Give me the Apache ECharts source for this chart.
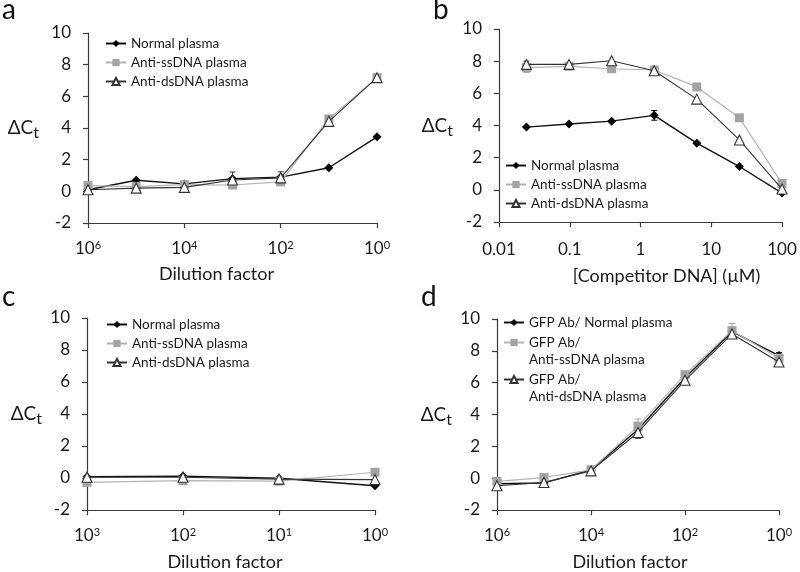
<!DOCTYPE html>
<html><head><meta charset="utf-8">
<script src="https://cdn.jsdelivr.net/npm/echarts@6/dist/echarts.min.js"></script>
<style>html,body{margin:0;padding:0;background:#fff}#c{width:800px;height:572px}</style>
</head><body><div id="c"></div>
<script>
// ---------- DATA ----------
const namesABC = ['Normal plasma', 'Anti-ssDNA plasma', 'Anti-dsDNA plasma'];
const namesD = ['GFP Ab/ Normal plasma', 'GFP Ab/\nAnti-ssDNA plasma', 'GFP Ab/\nAnti-dsDNA plasma'];
const panelLetters = ['a', 'b', 'c', 'd'];
const yTicks = [-2, 0, 2, 4, 6, 8, 10];
const bTickLabels = ['0.01', '0.1', '1', '10', '100'];

// Panel a: dilution factor exponent (10^n)
const aDil = [6, 5, 4, 3, 2, 1, 0];
const aNormal = [0.1, 0.7, 0.47, 0.8, 0.9, 1.49, 3.44];
const aSs = [0.36, 0.3, 0.42, 0.4, 0.6, 4.57, 7.18];
const aDs = [0.1, 0.2, 0.25, 0.72, 0.85, 4.42, 7.18];
const aNormalErr = [0, 0, 0.1, 0, 0, 0, 0];
const aSsErr = [0, 0, 0, 0, 0, 0, 0];
const aDsErr = [0, 0, 0.2, 0.5, 0.38, 0, 0];

// Panel b: competitor DNA concentration (µM)
const bConc = [0.0244140625, 0.09765625, 0.390625, 1.5625, 6.25, 25, 100];
const bNormal = [3.9, 4.09, 4.27, 4.63, 2.9, 1.45, -0.2];
const bSs = [7.6, 7.68, 7.53, 7.45, 6.4, 4.48, 0.4];
const bDs = [7.8, 7.8, 8.03, 7.4, 5.64, 3.1, 0.05];
const bNormalErr = [0, 0, 0, 0.3, 0, 0, 0];
const bSsErr = [0.3, 0.1, 0, 0, 0, 0, 0];
const bDsErr = [0.2, 0, 0, 0, 0, 0, 0];

// Panel c: dilution factor exponent (10^n)
const cDil = [3, 2, 1, 0];
const cNormal = [0.08, 0.12, -0.02, -0.48];
const cSs = [-0.27, -0.17, -0.2, 0.36];
const cDs = [0.05, 0.05, -0.07, -0.1];

// Panel d: dilution factor exponent (10^n)
const dDil = [6, 5, 4, 3, 2, 1, 0];
const dNormal = [-0.35, -0.3, 0.52, 3.06, 6.31, 9.2, 7.7];
const dSs = [-0.2, 0.04, 0.52, 3.27, 6.5, 9.27, 7.54];
const dDs = [-0.48, -0.27, 0.46, 2.87, 6.15, 9.06, 7.3];
const dNormalErr = [0, 0, 0, 0, 0, 0, 0.2];
const dSsErr = [0, 0, 0, 0.45, 0.15, 0.45, 0];
const dDsErr = [0, 0, 0, 0.37, 0, 0, 0];

// ---------- STYLE ----------
const FONT = 'Lato, "Open Sans", sans-serif';
const AX = '#3a3a3a';
const TXT = '#1a1a1a';
const sty = [
  { symbol: 'diamond', size: 9, color: '#000', line: '#111', lw: 1.4, fill: '#000' },
  { symbol: 'rect', size: 9, color: '#a3a3a3', line: '#b3b3b3', lw: 1.2, fill: '#a3a3a3' },
  { symbol: 'triangle', size: 10, color: '#333', line: '#333', lw: 1.1, fill: '#fff' }
];

const grids = [
  { left: 88, top: 33, width: 289, height: 190 },
  { left: 499, top: 29, width: 283, height: 193 },
  { left: 87, top: 318, width: 288, height: 192 },
  { left: 497, top: 319, width: 282, height: 191 }
];

function supLabel(v) { return '{b|10}{s|' + v + '}'; }
const supRich = {
  b: { fontSize: 17, fontFamily: FONT, color: TXT },
  s: { fontSize: 11, fontFamily: FONT, color: TXT, verticalAlign: 'top' }
};

function makeX(i, cfg) {
  const base = {
    gridIndex: i,
    axisLine: { onZero: false, lineStyle: { color: AX, width: 1.2 } },
    axisTick: { show: true, length: 5, lineStyle: { color: AX, width: 1.2 } },
    splitLine: { show: false },
    nameLocation: 'middle',
    nameTextStyle: { fontSize: 18, fontFamily: FONT, color: TXT }
  };
  return Object.assign(base, cfg);
}
function makeY(i, gap) {
  return {
    type: 'value', gridIndex: i, min: -2, max: 10, interval: 2,
    axisLine: { show: true, onZero: false, lineStyle: { color: AX, width: 1.2 } },
    axisTick: { show: true, length: 5, lineStyle: { color: AX, width: 1.2 } },
    splitLine: { show: false },
    axisLabel: { fontSize: 17, fontFamily: FONT, color: TXT, margin: 17 },
    name: '{d|ΔC}{t|t}',
    nameLocation: 'middle', nameRotate: 0, nameGap: gap,
    nameTextStyle: {
      rich: {
        d: { fontSize: 19, fontFamily: FONT, color: TXT },
        t: { fontSize: 16, fontFamily: FONT, color: TXT, padding: [10, 0, 0, 0] }
      }
    }
  };
}

const xAxes = [
  makeX(0, { type: 'value', inverse: true, min: 0, max: 6, interval: 2,
    axisLabel: { formatter: supLabel, rich: supRich, margin: 17 },
    name: 'Dilution factor', nameGap: 42,
    nameTextStyle: { fontSize: 18, fontFamily: FONT, color: TXT, padding: [0, 32, 0, 0] } }),
  makeX(1, { type: 'log', logBase: 10, min: 0.01, max: 100,
    axisLabel: { fontSize: 17, fontFamily: FONT, color: TXT, margin: 19,
      formatter: function (v) { const k = Math.round(Math.log10(v)) + 2; return bTickLabels[k]; } },
    name: '[Competitor DNA] (µM)', nameGap: 45,
    nameTextStyle: { fontSize: 18, fontFamily: FONT, color: TXT, padding: [0, 0, 0, 52] } }),
  makeX(2, { type: 'value', inverse: true, min: 0, max: 3, interval: 1,
    axisLabel: { formatter: supLabel, rich: supRich, margin: 17 },
    name: 'Dilution factor', nameGap: 43,
    nameTextStyle: { fontSize: 18, fontFamily: FONT, color: TXT, padding: [0, 12, 0, 0] } }),
  makeX(3, { type: 'value', inverse: true, min: 0, max: 6, interval: 2,
    axisLabel: { formatter: supLabel, rich: supRich, margin: 17 },
    name: 'Dilution factor', nameGap: 43,
    nameTextStyle: { fontSize: 18, fontFamily: FONT, color: TXT, padding: [0, 16, 0, 0] } })
];
const yAxes = [makeY(0, 49), makeY(1, 46), makeY(2, 45), makeY(3, 45)];

function lineSeries(i, name, xs, ys, k) {
  const s = sty[k];
  return {
    type: 'line', name: name, xAxisIndex: i, yAxisIndex: i,
    data: xs.map((x, j) => [x, ys[j]]),
    symbol: s.symbol, symbolSize: s.size, showSymbol: true,
    lineStyle: { color: s.line, width: s.lw },
    itemStyle: { color: s.fill, borderColor: s.color, borderWidth: k === 2 ? 1.1 : 0 },
    emphasis: { disabled: true }, animation: false, z: 3 + k
  };
}
function errSeries(i, xs, ys, errs, k) {
  const col = sty[k].color;
  return {
    type: 'custom', xAxisIndex: i, yAxisIndex: i, z: 2, animation: false, silent: true,
    data: xs.map((x, j) => [x, ys[j], errs[j]]).filter(d => d[2] > 0),
    renderItem: function (params, api) {
      const x = api.value(0), y = api.value(1), e = api.value(2);
      const t = api.coord([x, y + e]), b = api.coord([x, y - e]);
      const w = 3, st = { stroke: col, lineWidth: 1 };
      return { type: 'group', children: [
        { type: 'line', shape: { x1: t[0], y1: t[1], x2: b[0], y2: b[1] }, style: st },
        { type: 'line', shape: { x1: t[0] - w, y1: t[1], x2: t[0] + w, y2: t[1] }, style: st },
        { type: 'line', shape: { x1: b[0] - w, y1: b[1], x2: b[0] + w, y2: b[1] }, style: st }
      ] };
    }
  };
}

const series = [
  errSeries(0, aDil, aNormal, aNormalErr, 0), errSeries(0, aDil, aSs, aSsErr, 1), errSeries(0, aDil, aDs, aDsErr, 2),
  lineSeries(0, namesABC[0], aDil, aNormal, 0), lineSeries(0, namesABC[1], aDil, aSs, 1), lineSeries(0, namesABC[2], aDil, aDs, 2),
  errSeries(1, bConc, bNormal, bNormalErr, 0), errSeries(1, bConc, bSs, bSsErr, 1), errSeries(1, bConc, bDs, bDsErr, 2),
  lineSeries(1, namesABC[0], bConc, bNormal, 0), lineSeries(1, namesABC[1], bConc, bSs, 1), lineSeries(1, namesABC[2], bConc, bDs, 2),
  lineSeries(2, namesABC[0], cDil, cNormal, 0), lineSeries(2, namesABC[1], cDil, cSs, 1), lineSeries(2, namesABC[2], cDil, cDs, 2),
  errSeries(3, dDil, dNormal, dNormalErr, 0), errSeries(3, dDil, dSs, dSsErr, 1), errSeries(3, dDil, dDs, dDsErr, 2),
  lineSeries(3, namesD[0], dDil, dNormal, 0), lineSeries(3, namesD[1], dDil, dSs, 1), lineSeries(3, namesD[2], dDil, dDs, 2)
];

const legText = {
  fontSize: 13.5, fontFamily: FONT, color: TXT, lineHeight: 17,
  rich: {
    e: { fontSize: 13.5, fontFamily: FONT, lineHeight: 17 },
    f: { fontSize: 13.5, fontFamily: FONT, color: TXT, lineHeight: 17 }
  }
};
function legend(left, top, data, gap, fmt) {
  const l = { orient: 'vertical', left: left, top: top, padding: 0, itemGap: gap,
    itemWidth: 20, itemHeight: 9, textStyle: legText, data: data,
    selectedMode: false, inactiveColor: '#000' };
  if (fmt) l.formatter = fmt;
  return l;
}
// two-line legend names: a blank first line keeps the icon level with the first text line
function twoLine(name) {
  if (name.indexOf('\n') < 0) return name;
  const p = name.split('\n');
  return '{e| }\n{f|' + p[0] + '}\n{f|' + p[1] + '}';
}
const legends = [
  legend(105, 35, namesABC, 2),
  legend(505, 157, namesABC, 2),
  legend(106, 316, namesABC, 2),
  legend(503, 314, namesD, -14, twoLine)
];

const titlePos = [[2, -4], [433, -4], [2, 283], [421, 283]];
const titles = panelLetters.map((t, i) => ({
  text: t, left: titlePos[i][0], top: titlePos[i][1], padding: 0,
  textStyle: { fontSize: 28, fontWeight: 'normal', fontFamily: FONT, color: '#111' }
}));

const chart = echarts.init(document.getElementById('c'), null, { renderer: 'canvas' });
chart.setOption({
  backgroundColor: '#fff',
  animation: false,
  title: titles,
  grid: grids,
  xAxis: xAxes,
  yAxis: yAxes,
  legend: legends,
  series: series
});
</script></body></html>
